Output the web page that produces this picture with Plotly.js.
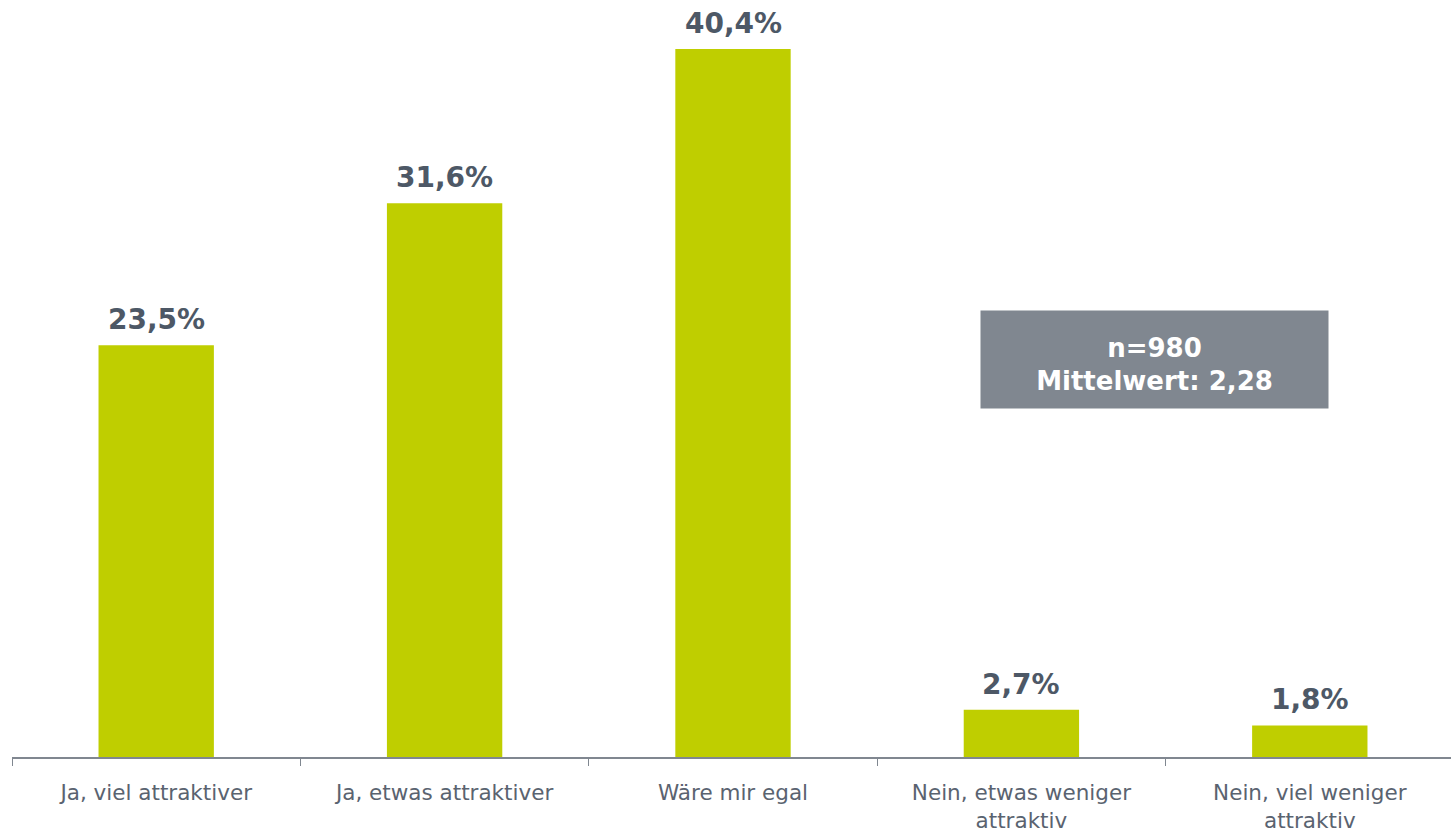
<!DOCTYPE html>
<html>
<head>
<meta charset="utf-8">
<script src="https://cdn.plot.ly/plotly-3.0.1.min.js"></script>
<style>
html,body{margin:0;padding:0;overflow:hidden;background:#fff;}
#chart{width:1458px;height:830px;}
</style>
</head>
<body>
<div id="chart"></div>
<script>
const categories = ["Ja, viel attraktiver", "Ja, etwas attraktiver", "Wäre mir egal", "Nein, etwas weniger<br>attraktiv", "Nein, viel weniger<br>attraktiv"];
const values = [23.5, 31.6, 40.4, 2.7, 1.8];
const valueLabels = ["23,5%", "31,6%", "40,4%", "2,7%", "1,8%"];
const infoText = "n=980<br>Mittelwert: 2,28";

const barColor = "#BFCE00";
const labelColor = "#4D5866";
const font = "DejaVu Sans, Verdana, sans-serif";

const trace = {
  type: "bar",
  x: categories,
  y: values,
  width: 0.4,
  marker: {color: barColor},
  hoverinfo: "none"
};

const annotations = categories.map((c, i) => ({
  x: c, y: values[i], xref: "x", yref: "y",
  text: "<b>" + valueLabels[i] + "</b>",
  showarrow: false, yanchor: "bottom", yshift: 7,
  font: {family: font, size: 28, color: labelColor}
}));

annotations.push({
  xref: "paper", yref: "paper", x: 0.7923, y: 0.5251,
  xanchor: "center", yanchor: "middle",
  text: "<b>" + infoText + "</b>",
  showarrow: false, bgcolor: "#808790", width: 347, height: 97, borderpad: 0,
  font: {family: font, size: 26, color: "#ffffff"}
});

const layout = {
  width: 1458, height: 830,
  margin: {l: 12, r: 4, t: 0, b: 73},
  paper_bgcolor: "#ffffff", plot_bgcolor: "#ffffff",
  showlegend: false,
  bargap: 0.6,
  xaxis: {
    type: "category",
    showline: true, linecolor: "#808790", linewidth: 1.5,
    ticks: "outside", ticklen: 7, tickcolor: "#808790", tickwidth: 1,
    tickson: "boundaries",
    tickfont: {family: font, size: 21.5, color: "#5A6370"},
    ticklabelstandoff: 16,
    fixedrange: true
  },
  yaxis: {
    range: [0, 43.2], visible: false, showgrid: false, zeroline: false, fixedrange: true
  },
  annotations: annotations
};

Plotly.newPlot("chart", [trace], layout, {displayModeBar: false, staticPlot: true}).then(function () {
  // nudge the info box text slightly downward inside its grey box, as in the reference
  const ann = document.querySelectorAll(".annotation");
  const last = ann[ann.length - 1];
  if (last) {
    const t = last.querySelector("text");
    if (t) {
      const cur = t.getAttribute("transform") || "";
      t.setAttribute("transform", cur + " translate(0,5)");
    }
  }
});
</script>
</body>
</html>
